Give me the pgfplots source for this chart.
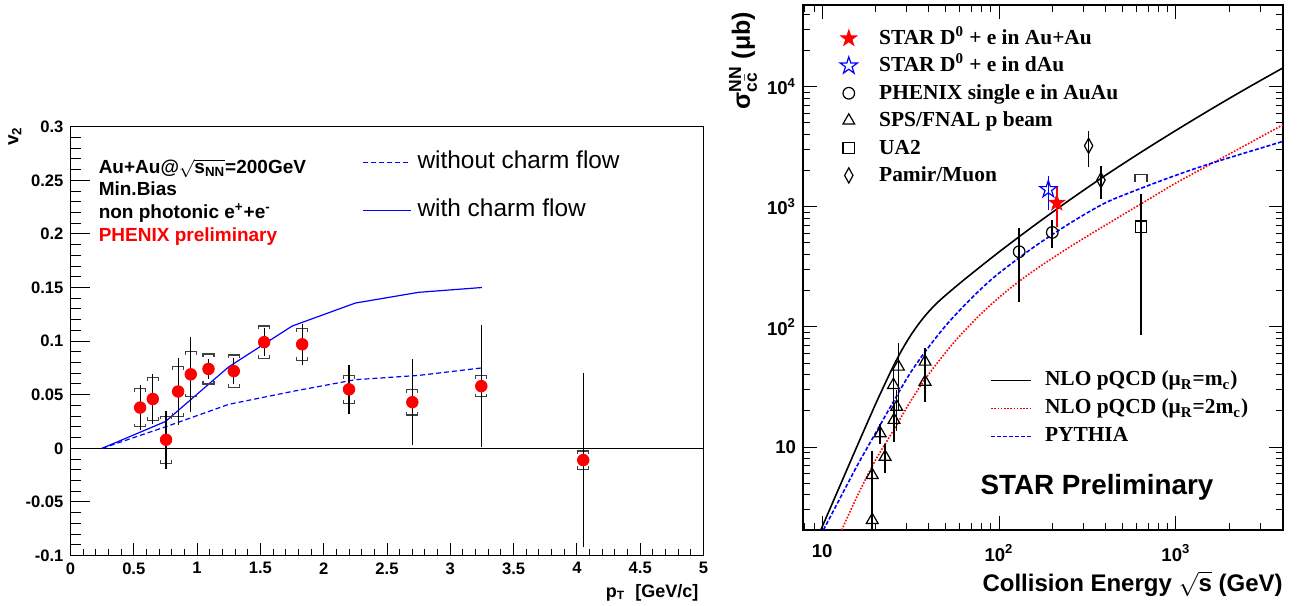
\documentclass[border=0pt]{standalone}
\usepackage{pgfplots}
\pgfplotsset{compat=1.18}
\usepackage{pgfplotstable}
\usepackage{amsmath}
\usepackage{fontspec}
\setmainfont{Liberation Sans}
\newfontfamily\timesfont{Liberation Serif}
\usetikzlibrary{plotmarks}

% bracket marks for systematic uncertainties
\pgfdeclareplotmark{brtop}{%
  \pgfpathmoveto{\pgfqpoint{-\pgfplotmarksize}{-0.6\pgfplotmarksize}}%
  \pgfpathlineto{\pgfqpoint{-\pgfplotmarksize}{0pt}}%
  \pgfpathlineto{\pgfqpoint{\pgfplotmarksize}{0pt}}%
  \pgfpathlineto{\pgfqpoint{\pgfplotmarksize}{-0.6\pgfplotmarksize}}%
  \pgfusepathqstroke}
\pgfdeclareplotmark{brbot}{%
  \pgfpathmoveto{\pgfqpoint{-\pgfplotmarksize}{0.6\pgfplotmarksize}}%
  \pgfpathlineto{\pgfqpoint{-\pgfplotmarksize}{0pt}}%
  \pgfpathlineto{\pgfqpoint{\pgfplotmarksize}{0pt}}%
  \pgfpathlineto{\pgfqpoint{\pgfplotmarksize}{0.6\pgfplotmarksize}}%
  \pgfusepathqstroke}
% five-pointed star
\def\starpath{%
  \pgfpathmoveto{\pgfqpoint{0pt}{\pgfplotmarksize}}%
  \pgfpathlineto{\pgfqpoint{-0.2245\pgfplotmarksize}{0.3090\pgfplotmarksize}}%
  \pgfpathlineto{\pgfqpoint{-0.9511\pgfplotmarksize}{0.3090\pgfplotmarksize}}%
  \pgfpathlineto{\pgfqpoint{-0.3633\pgfplotmarksize}{-0.1180\pgfplotmarksize}}%
  \pgfpathlineto{\pgfqpoint{-0.5878\pgfplotmarksize}{-0.8090\pgfplotmarksize}}%
  \pgfpathlineto{\pgfqpoint{0pt}{-0.382\pgfplotmarksize}}%
  \pgfpathlineto{\pgfqpoint{0.5878\pgfplotmarksize}{-0.8090\pgfplotmarksize}}%
  \pgfpathlineto{\pgfqpoint{0.3633\pgfplotmarksize}{-0.1180\pgfplotmarksize}}%
  \pgfpathlineto{\pgfqpoint{0.9511\pgfplotmarksize}{0.3090\pgfplotmarksize}}%
  \pgfpathlineto{\pgfqpoint{0.2245\pgfplotmarksize}{0.3090\pgfplotmarksize}}%
  \pgfpathclose}
\pgfdeclareplotmark{fstar}{\starpath\pgfusepathqstroke}
\pgfdeclareplotmark{fstar*}{\starpath\pgfusepathqfillstroke}
% narrow diamond
\pgfdeclareplotmark{ndiamond}{%
  \pgfpathmoveto{\pgfqpoint{0pt}{\pgfplotmarksize}}%
  \pgfpathlineto{\pgfqpoint{0.55\pgfplotmarksize}{0pt}}%
  \pgfpathlineto{\pgfqpoint{0pt}{-\pgfplotmarksize}}%
  \pgfpathlineto{\pgfqpoint{-0.55\pgfplotmarksize}{0pt}}%
  \pgfpathclose\pgfusepathqstroke}

\definecolor{rootred}{RGB}{255,0,0}
\definecolor{rootblue}{RGB}{0,0,255}

% v2 of non-photonic electrons: pT, v2, stat, sys
\pgfplotstableread{
x y stat sys
0.55 0.038 0.018 0.018
0.65 0.046 0.020 0.020
0.755 0.008 0.024 0.022
0.85 0.053 0.028 0.023
0.95 0.069 0.032 0.021
1.09 0.074 0.006 0.014
1.29 0.072 0.009 0.015
1.53 0.099 0.010 0.015
1.83 0.097 0.016 0.015
2.20 0.055 0.020 0.013
2.70 0.043 0.037 0.012
3.245 0.058 0.054 0.010
4.05 -0.011 0.078 0.0085
}\vtwo

% model curves
\pgfplotstableread{
x nocharm withcharm
0.25 0 0
0.75 0.020 0.025
1.25 0.041 0.076
1.75 0.053 0.114
2.25 0.064 0.1355
2.75 0.068 0.1455
3.25 0.075 0.150
}\models

% charm cross sections
\pgfplotstableread{
x y ep em
212 1077 416 397
}\starauau
\pgfplotstableread{
x y ep em
190 1393 414 456
}\stardau
\pgfplotstableread{
x y ep em
130 422 245 260
200 611 163 161
}\phenix
\pgfplotstableread{
x y ep em
27.0 46.6 26.4 26.4
25.3 32.8 12 12
26.4 21.6 8 8
25.5 16.8 6 5.8
21.3 13.0 2.5 2.5
22.7 8.3 2.4 2.2
19.2 5.85 3.5 4.5
19.2 2.47 1.2 1.5
38.2 51.3 15 11
38.2 34.9 11 11
}\spsfnal
\pgfplotstableread{
x y ep em
634 681 592 595
}\uatwo
\pgfplotstableread{
x y
634 1866
}\uatwosys
\pgfplotstableread{
x y ep em
321 3213 1077 1065
377 1663 513 507
}\pamir

% NLO pQCD, mu_R = m_c
\pgfplotstableread{
x y
9.83 2.04
12.59 4.73
15.85 10.35
19.95 22.39
22.39 32.36
25.12 46.24
28.18 63.83
31.62 84.63
35.48 107.8
39.81 132.6
46.45 167.1
63.10 244.9
100 419.8
158.5 699.8
251.2 1140
398.1 1816
631.0 2825
1000 4315
1585 6501
2512 9661
4036 14320
}\nlomc
% NLO pQCD, mu_R = 2 m_c
\pgfplotstableread{
x y
12.9 2.04
15.85 3.945
19.95 7.691
25.12 13.52
31.62 24.04
39.81 39.90
56.23 75.59
79.43 129.1
112.2 202.3
158.5 295.8
251.2 462.4
398.1 699.8
631.0 1050
1000 1574
1585 2275
4036 4808
}\nlotwomc
% PYTHIA
\pgfplotstableread{
x y
10.17 2.04
12.59 3.715
15.85 7.079
19.95 12.88
25.12 23.44
31.62 41.69
39.81 67.22
50.12 102.9
63.10 148.8
79.43 207.7
100 280.2
158.5 465.0
251.2 727.0
398.1 1075
631.0 1418
1000 1826
1585 2299
4036 3499
}\pythia

\begin{document}
\begin{tikzpicture}
\useasboundingbox (0pt,0pt) rectangle (649.5pt,302.5pt);

% ---------------- left panel: v2 ----------------
\begin{axis}[
  at={(35.25pt,24.75pt)}, anchor=south west,
  scale only axis, width=316.5pt, height=214.4pt,
  clip mode=individual,
  xmin=0, xmax=5, ymin=-0.1, ymax=0.3,
  xtick={0,0.5,1,1.5,2,2.5,3,3.5,4,4.5,5},
  xticklabels={0,0.5,1,1.5,2,2.5,3,3.5,4,4.5,5},
  ytick={-0.1,-0.05,0,0.05,0.1,0.15,0.2,0.25,0.3},
  yticklabels={-0.1,-0.05,0,0.05,0.1,0.15,0.2,0.25,0.3},
  minor x tick num=4, minor y tick num=4,
  tick align=inside, xtick pos=left, ytick pos=left,
  major tick length=6.5pt, minor tick length=3.3pt,
  tick style={black, line width=0.5pt},
  axis line style={line width=0.6pt},
  ticklabel style={font=\fontsize{8.3}{9}\selectfont\bfseries},
  legend style={at={(axis description cs:0.4605,0.9456)}, anchor=north west,
    draw=none, fill=none, inner sep=0pt, row sep=12pt,
    font=\fontsize{12.2}{14}\selectfont,
    nodes={inner sep=0pt, text height=9pt, text depth=3pt}},
  legend cell align=left,
  legend image code/.code={\draw[#1] (0pt,0pt) -- (24pt,0pt); \path (27pt,0pt);},
]
\addplot[black, line width=0.5pt, forget plot] coordinates {(0,0) (5,0)};
\addplot[rootblue, line width=0.6pt, dash pattern=on 2.5pt off 1.5pt] table[x=x, y=nocharm] \models;
\addlegendentry{without charm flow}
\addplot[rootblue, line width=0.6pt] table[x=x, y=withcharm] \models;
\addlegendentry{with charm flow}
\addplot[only marks, mark=brtop, mark size=2.75pt, black!75, mark options={line width=0.6pt}, forget plot]
  table[x=x, y expr=\thisrow{y}+\thisrow{sys}] \vtwo;
\addplot[only marks, mark=brbot, mark size=2.75pt, black!75, mark options={line width=0.6pt}, forget plot]
  table[x=x, y expr=\thisrow{y}-\thisrow{sys}] \vtwo;
\addplot[only marks, mark=*, mark size=2.9pt, rootred, mark options={draw=rootred, fill=rootred}, forget plot,
  error bars/.cd, y dir=both, y explicit,
  error bar style={black, line width=0.6pt},
  error mark options={black, mark size=1.7pt, line width=0.6pt}]
  table[x=x, y=y, y error=stat] \vtwo;

\node[anchor=base west, font=\fontsize{9.5}{11}\selectfont\bfseries]
  at (axis description cs:0.0335,0.8913) {Au+Au@$\sqrt{\text{s}_{\text{NN}}}$=200GeV};
\node[anchor=base west, font=\fontsize{9.5}{11}\selectfont\bfseries]
  at (axis description cs:0.0335,0.8384) {Min.Bias};
\node[anchor=base west, font=\fontsize{9.5}{11}\selectfont\bfseries]
  at (axis description cs:0.0335,0.7855) {non photonic e\textsuperscript{+}+e\textsuperscript{-}};
\node[anchor=base west, font=\fontsize{9.5}{11}\selectfont\bfseries, text=rootred]
  at (axis description cs:0.0335,0.7318) {PHENIX preliminary};
\node[rotate=90, anchor=east, font=\fontsize{9.5}{11}\selectfont\bfseries]
  at (axis description cs:-0.088,1.016) {v\textsubscript{2}};
\node[anchor=north east, font=\fontsize{9}{10}\selectfont\bfseries]
  at (axis description cs:1.003,-0.05) {p\textsubscript{T}\ \ [GeV/c]};
\end{axis}

% longer ticks on the v2 axis
\begin{axis}[
  at={(35.25pt,24.75pt)}, anchor=south west,
  scale only axis, width=316.5pt, height=214.4pt,
  xmin=0, xmax=5, ymin=-0.1, ymax=0.3,
  xtick=\empty,
  ytick={-0.1,-0.05,0,0.05,0.1,0.15,0.2,0.25,0.3},
  yticklabels={}, minor y tick num=4,
  tick align=inside, ytick pos=left,
  major tick length=9.5pt, minor tick length=5pt,
  tick style={black, line width=0.5pt},
  axis line style={draw=none},
]
\end{axis}

% ---------------- right panel: charm cross section ----------------
\begin{axis}[
  at={(401.5pt,37.5pt)}, anchor=south west,
  scale only axis, width=240pt, height=262.5pt,
  clip mode=individual,
  xmode=log, ymode=log,
  xmin=7.8, xmax=4030, ymin=2.04, ymax=47700,
  xtick={10,100,1000},
  xticklabels={10,10\textsuperscript{2},10\textsuperscript{3}},
  ytick={10,100,1000,10000},
  yticklabels={10,10\textsuperscript{2},10\textsuperscript{3},10\textsuperscript{4}},
  minor xtick={8,9,20,30,40,50,60,70,80,90,200,300,400,500,600,700,800,900,2000,3000,4000},
  minor ytick={3,4,5,6,7,8,9,20,30,40,50,60,70,80,90,200,300,400,500,600,700,800,900,
    2000,3000,4000,5000,6000,7000,8000,9000,20000,30000,40000},
  tick align=inside, xtick pos=both, ytick pos=both,
  major tick length=7pt, minor tick length=3.7pt,
  tick style={black, line width=0.5pt},
  axis line style={line width=0.6pt},
  ticklabel style={font=\fontsize{9.3}{10}\selectfont\bfseries},
  xticklabel style={inner sep=1pt, yshift=-6pt},
  legend style={at={(axis description cs:0.3896,0.3076)}, anchor=north west,
    draw=none, fill=none, inner sep=0pt, row sep=2.5pt,
    font=\timesfont\bfseries\fontsize{10.7}{12}\selectfont,
    nodes={inner sep=0pt, text height=8.5pt, text depth=3pt}},
  legend cell align=left,
  legend image code/.code={\draw[#1] (0pt,0pt) -- (20pt,0pt); \path (26.5pt,0pt);},
]
\addplot[black, line width=0.8pt, smooth] table[x=x, y=y] \nlomc;
\addlegendentry{NLO pQCD (μ\textsubscript{R}=m\textsubscript{c})}
\addplot[rootred, line width=0.8pt, dash pattern=on 0.8pt off 0.8pt, smooth] table[x=x, y=y] \nlotwomc;
\addlegendentry{NLO pQCD (μ\textsubscript{R}=2m\textsubscript{c})}
\addplot[rootblue, line width=0.8pt, dash pattern=on 2pt off 1pt, smooth] table[x=x, y=y] \pythia;
\addlegendentry{PYTHIA}

\node[font=\fontsize{13.9}{16}\selectfont\bfseries] at (axis description cs:0.6125,0.0819) {STAR Preliminary};
\node[rotate=90, anchor=east, font=\fontsize{12.5}{14}\selectfont\bfseries]
  at (axis description cs:-0.125,1.0) {σ$^{\text{NN}}_{\text{c}\bar{\text{c}}}$ (μb)};
\node[anchor=north east, inner sep=0pt, font=\fontsize{12}{14}\selectfont\bfseries]
  at (axis description cs:1.0,-0.0781) {Collision Energy $\sqrt{\text{s}}$ (GeV)};
\end{axis}

% measurements drawn above the curves
\begin{axis}[
  at={(401.5pt,37.5pt)}, anchor=south west,
  scale only axis, width=240pt, height=262.5pt,
  clip mode=individual,
  xmode=log, ymode=log,
  xmin=7.8, xmax=4030, ymin=2.04, ymax=47700,
  hide axis,
  legend style={at={(axis description cs:0.0604,0.958)}, anchor=north west,
    draw=none, fill=none, inner sep=0pt, row sep=2.7pt,
    font=\timesfont\bfseries\fontsize{10.7}{12}\selectfont,
    nodes={inner sep=0pt, text height=8.5pt, text depth=2.5pt}},
  legend cell align=left,
  legend image code/.code={\draw[mark repeat=2, mark phase=2, #1]
     plot coordinates {(0pt,0pt) (8pt,0pt) (16pt,0pt)}; \path (0pt,-4pt) (23pt,4pt);},
  every axis plot/.append style={
    error bars/y dir=both, error bars/y explicit, error bars/error mark=none,
    error bars/error bar style={line width=0.8pt}},
]
\addplot[only marks, mark=fstar*, mark size=4.3pt, rootred, mark options={fill=rootred, line width=0.4pt},
  error bars/error bar style={rootred, line width=0.8pt}]
  table[x=x, y=y, y error plus=ep, y error minus=em] \starauau;
\addlegendentry{STAR D\textsuperscript{0} + e in Au+Au}
\addplot[only marks, mark=fstar, mark size=4.5pt, rootblue, mark options={line width=0.6pt},
  error bars/error bar style={rootblue, line width=0.8pt}]
  table[x=x, y=y, y error plus=ep, y error minus=em] \stardau;
\addlegendentry{STAR D\textsuperscript{0} + e in dAu}
\addplot[only marks, mark=o, mark size=2.9pt, black, mark options={line width=0.6pt, fill=white},
  error bars/error bar style={black}]
  table[x=x, y=y, y error plus=ep, y error minus=em] \phenix;
\addlegendentry{PHENIX single e in AuAu}
\addplot[only marks, mark=triangle, mark size=3.4pt, black, mark options={line width=0.6pt},
  error bars/error bar style={black}]
  table[x=x, y=y, y error plus=ep, y error minus=em] \spsfnal;
\addlegendentry{SPS/FNAL p beam}
\addplot[only marks, mark=square, mark size=2.9pt, black, mark options={line width=0.6pt, fill=white},
  error bars/error bar style={black}]
  table[x=x, y=y, y error plus=ep, y error minus=em] \uatwo;
\addlegendentry{UA2}
\addplot[only marks, mark=ndiamond, mark size=3.8pt, black, mark options={line width=0.6pt},
  error bars/error bar style={black}]
  table[x=x, y=y, y error plus=ep, y error minus=em] \pamir;
\addlegendentry{Pamir/Muon}
\addplot[only marks, mark=brtop, mark size=3pt, black!80, mark options={line width=0.6pt, yscale=2.2},
  forget plot, error bars/y dir=none] table[x=x, y=y] \uatwosys;
\end{axis}
\end{tikzpicture}
\end{document}
